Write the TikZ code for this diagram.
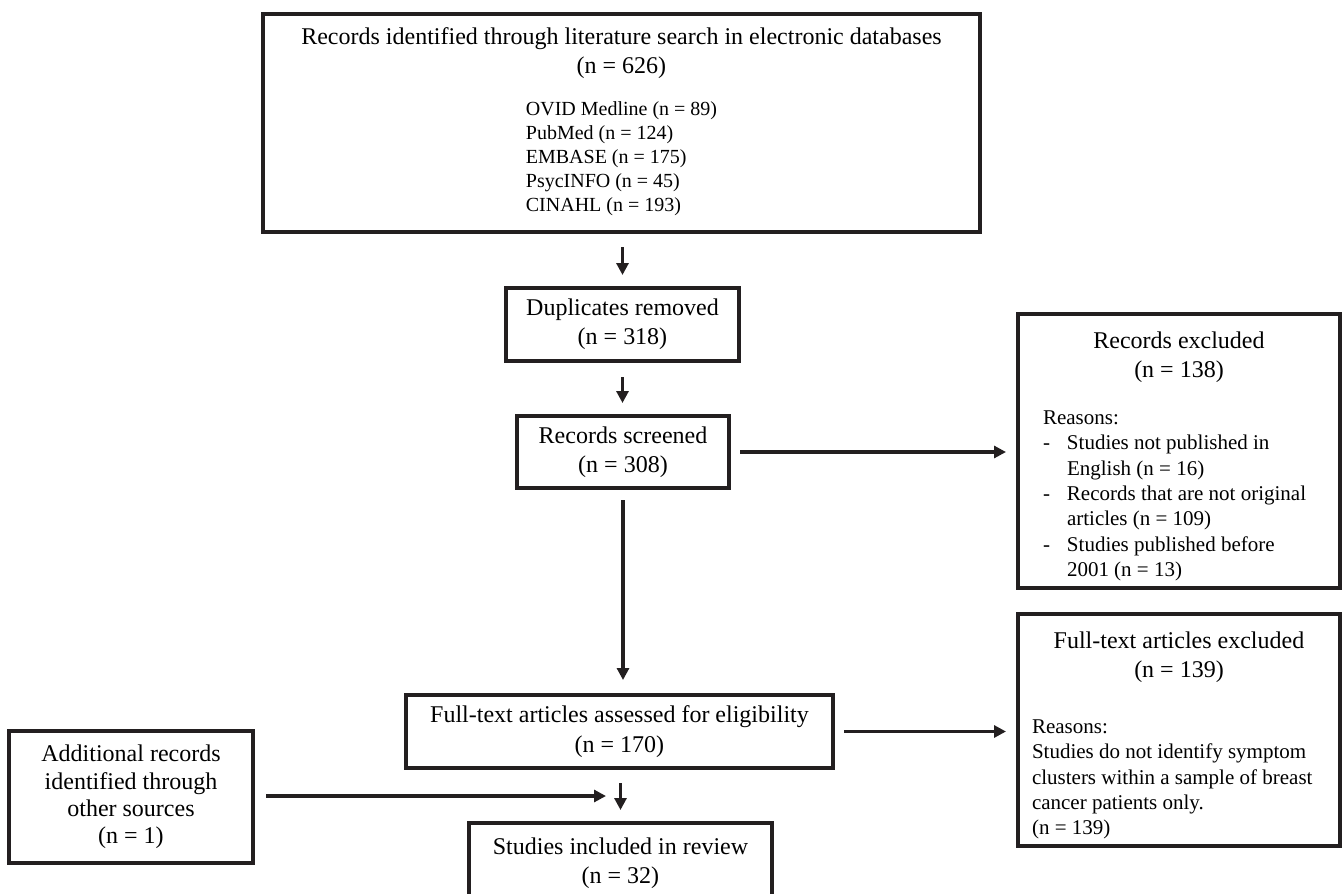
\documentclass[tikz,border=0pt]{standalone}
\usepackage{fontspec}
\setmainfont{Liberation Serif}
\usepackage{tikz}
\usetikzlibrary{positioning,arrows.meta,calc}
\definecolor{ink}{HTML}{231F20}
\newcommand{\boxfont}{\fontsize{18}{22}\selectfont}
\newcommand{\listfont}{\fontsize{15}{18}\selectfont}
\newcommand{\whyfont}{\fontsize{15.75}{19}\selectfont}
\newcommand{\reason}[1]{\makebox[18pt][l]{-}#1}

\begin{document}
\begin{tikzpicture}[x=0.75pt, y=-0.75pt,
    box/.style={draw=ink, line width=3pt, inner sep=0pt, align=center, font=\boxfont},
    flow/.style={draw=ink, line width=2.6pt, -{Triangle[length=9pt,width=9pt]}},
  ]
  \useasboundingbox (0,0) rectangle (1343,893);
  \clip (0,0) rectangle (1343,893);

  \node[box, minimum width=537.75pt, minimum height=163.5pt] (search) at (621.5,123) {%
    Records identified through literature search in electronic databases\\
    (n = 626)\\[9pt]
    {\listfont\begin{tabular}[t]{@{}l@{}}
      OVID Medline (n = 89)\\
      PubMed (n = 124)\\
      EMBASE (n = 175)\\
      PsycINFO (n = 45)\\
      CINAHL (n = 193)
    \end{tabular}}};
  \node[box, minimum width=174.75pt, minimum height=54.75pt] (dup) at (622.5,324.5)
    {Duplicates removed\\(n = 318)};
  \node[box, minimum width=159pt, minimum height=54pt] (screen) at (623,452)
    {Records screened\\(n = 308)};
  \node[box, minimum width=320.25pt, minimum height=54.75pt] (full) at (619.5,731.5)
    {Full-text articles assessed for eligibility\\(n = 170)};
  \node[box, minimum width=227.25pt, minimum height=60pt] (incl) at (620.5,863)
    {Studies included in review\\(n = 32)};
  \node[box, font=\fontsize{18}{20.5}\selectfont, minimum width=183pt, minimum height=99pt] (extra) at (131,797)
    {Additional records\\identified through\\other sources\\(n = 1)};

  \node[box, minimum width=241.5pt, minimum height=205.5pt] (excl) at (1179,451) {%
    \rule{0pt}{23pt}Records excluded\\
    (n = 138)\\[13pt]
    \makebox[204pt][l]{\whyfont\begin{tabular}[t]{@{}l@{}}
      Reasons:\\
      \reason{Studies not published in}\\
      \hspace*{18pt}English (n = 16)\\
      \reason{Records that are not original}\\
      \hspace*{18pt}articles (n = 109)\\
      \reason{Studies published before}\\
      \hspace*{18pt}2001 (n = 13)
    \end{tabular}}};
  \node[box, minimum width=241.5pt, minimum height=174pt] (exclfull) at (1179,730) {%
    \rule{0pt}{23pt}Full-text articles excluded\\
    (n = 139)\\[20pt]
    \makebox[220.5pt][l]{\whyfont\begin{tabular}[t]{@{}l@{}}
      Reasons:\\
      Studies do not identify symptom\\
      clusters within a sample of breast\\
      cancer patients only.\\
      (n = 139)
    \end{tabular}}};

  \coordinate (join) at (606,796);

  \draw[flow, shorten <=9.75pt, shorten >=8.25pt] (dup.north |- search.south) -- (dup.north);
  \draw[flow, shorten <=10.5pt, shorten >=8.25pt] (dup.south) -- (dup.south |- screen.north);
  \draw[flow, shorten <=7.5pt, shorten >=9.75pt] (screen.south) -- (screen.south |- full.north);
  \draw[flow, shorten <=6.75pt, shorten >=7.5pt] (screen.east) -- (screen.east -| excl.west);
  \draw[flow, shorten <=6.75pt, shorten >=7.5pt] (full.east) -- (full.east -| exclfull.west);
  \draw[flow, shorten <=9.75pt, shorten >=8.25pt] (incl.north |- full.south) -- (incl.north);
  \draw[flow, shorten <=8.25pt] (extra.east |- join) -- (join);
\end{tikzpicture}
\end{document}
